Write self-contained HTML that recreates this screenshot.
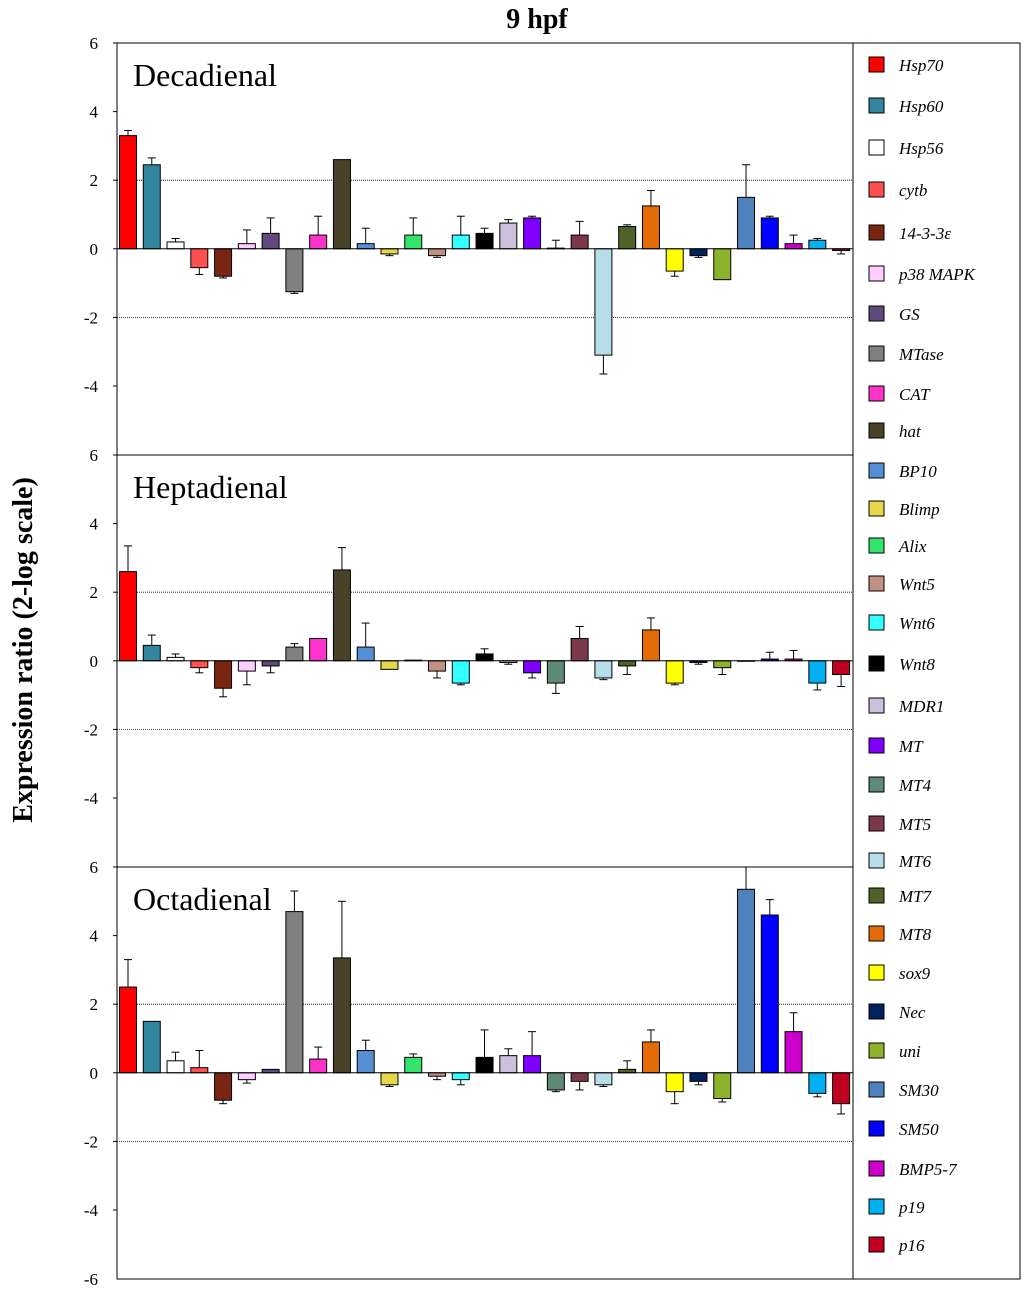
<!DOCTYPE html>
<html><head><meta charset="utf-8"><style>
body{margin:0;background:#fff;}
svg text{font-family:"Liberation Serif",serif;}
</style></head><body>
<svg id="chart" width="1024" height="1295" xmlns="http://www.w3.org/2000/svg">
<text x="537" y="28" text-anchor="middle" font-size="28" font-weight="bold">9 hpf</text>
<text transform="translate(32,650) rotate(-90)" text-anchor="middle" font-size="28" font-weight="bold">Expression ratio (2-log scale)</text>
<g id="plots"></g>
<rect x="853" y="43" width="167" height="1236" fill="none" stroke="#000" stroke-width="1"/>
<g id="legend"></g>
</svg>
<script>
const genes=["Hsp70","Hsp60","Hsp56","cytb","14-3-3ε","p38 MAPK","GS","MTase","CAT","hat","BP10","Blimp","Alix","Wnt5","Wnt6","Wnt8","MDR1","MT","MT4","MT5","MT6","MT7","MT8","sox9","Nec","uni","SM30","SM50","BMP5-7","p19","p16"];
const colors=["#ff0000","#31859c","#ffffff","#ff5050","#7a2412","#ffccff","#604a7b","#808080","#ff33cc","#4a4228","#558ed5","#e6d64a","#33e36b","#c09080","#33ffff","#000000","#ccc0da","#7f00ff","#5e8a78","#7b3848","#b7dee8","#4f6228","#e36c09","#ffff00","#002060","#8cb32a","#4f81bd","#0000ff","#cc00cc","#00b0f0","#c00020"];
const panelNames=["Decadienal","Heptadienal","Octadienal"];
const decaVals=[3.3,2.45,0.2,-0.55,-0.8,0.15,0.45,-1.25,0.4,2.6,0.15,-0.15,0.4,-0.2,0.4,0.45,0.75,0.9,0.02,0.4,-3.1,0.65,1.25,-0.65,-0.2,-0.9,1.5,0.9,0.15,0.25,-0.05];
const decaErr=[3.45,2.65,0.3,-0.75,-0.85,0.55,0.9,-1.3,0.95,2.62,0.6,-0.2,0.9,-0.25,0.95,0.6,0.85,0.95,0.25,0.8,-3.65,0.7,1.7,-0.8,-0.25,-0.9,2.45,0.95,0.4,0.3,-0.15];
const heptaVals=[2.6,0.45,0.1,-0.2,-0.8,-0.3,-0.15,0.4,0.65,2.65,0.4,-0.25,0.02,-0.3,-0.65,0.2,-0.05,-0.35,-0.65,0.65,-0.5,-0.15,0.9,-0.65,-0.05,-0.2,0.0,0.05,0.05,-0.65,-0.4];
const heptaErr=[3.35,0.75,0.2,-0.35,-1.05,-0.7,-0.35,0.5,0.65,3.3,1.1,-0.25,0.02,-0.5,-0.7,0.35,-0.1,-0.5,-0.95,1.0,-0.55,-0.4,1.25,-0.7,-0.1,-0.4,0.0,0.25,0.3,-0.85,-0.75];
const octaVals=[2.5,1.5,0.35,0.15,-0.8,-0.2,0.1,4.7,0.4,3.35,0.65,-0.35,0.45,-0.1,-0.2,0.45,0.5,0.5,-0.5,-0.25,-0.35,0.1,0.9,-0.55,-0.25,-0.75,5.35,4.6,1.2,-0.6,-0.9];
const octaErr=[3.3,1.5,0.6,0.65,-0.9,-0.3,0.12,5.3,0.75,5.0,0.95,-0.4,0.55,-0.2,-0.35,1.25,0.7,1.2,-0.55,-0.5,-0.4,0.35,1.25,-0.9,-0.35,-0.85,6.0,5.05,1.75,-0.7,-1.2];
const ticks=[6,4,2,0,-2,-4];
const NS="http://www.w3.org/2000/svg";
const plots=document.getElementById('plots');
const X0=117,X1=853,step=23.77,bw=17,unit=34.3;
const panelTops=[43,455,867];
const vals=[decaVals,heptaVals,octaVals],errs=[decaErr,heptaErr,octaErr];
function mk(tag,a,parent){const e=document.createElementNS(NS,tag);for(const k in a)e.setAttribute(k,a[k]);(parent||plots).appendChild(e);return e;}
function xc(i){return X0+11+i*step;}
panelTops.forEach((top,p)=>{
  const y=v=>top+(6-v)*unit;
  const g=mk('g',{});
  
  
  [2,-2].forEach(v=>{const l=mk('line',{x1:X0,x2:X1,y1:y(v),y2:y(v),stroke:'#000','stroke-width':0.8,'stroke-dasharray':'1,1'},g);});
  ticks.forEach(t=>{const tx=mk('text',{x:98,y:y(t)+6,'text-anchor':'end','font-size':17},g);tx.textContent=t;
    mk('line',{x1:X0-4,x2:X0,y1:y(t),y2:y(t),stroke:'#000'},g);});
  const nm=mk('text',{x:133,y:top+43,'font-size':32},g);nm.textContent=panelNames[p];
  
  vals[p].forEach((v,i)=>{
    const cx=xc(i),y0=y(0),yv=y(v);
    const r=mk('rect',{x:cx-bw/2,y:Math.min(y0,yv),width:bw,height:Math.max(Math.abs(yv-y0),0.5),fill:colors[i],stroke:'#000','stroke-width':1},g);
    
    
    const ye=y(errs[p][i]);
    if(Math.abs(ye-yv)>1){
      mk('line',{x1:cx,x2:cx,y1:yv,y2:ye,stroke:'#000','stroke-width':1},g);
      mk('line',{x1:cx-4,x2:cx+4,y1:ye,y2:ye,stroke:'#000','stroke-width':1},g);
    }
  });
  mk('line',{x1:X0,x2:X1,y1:y(0),y2:y(0),stroke:'#000','stroke-width':1},g);
  mk('rect',{x:X0,y:top,width:X1-X0,height:412,fill:'none',stroke:'#000','stroke-width':1},g);
});
const bt=mk('text',{x:98,y:1285,'text-anchor':'end','font-size':17});bt.textContent='-6';

const legY=[65,106,148,190,233,274,314,354,394,431,471,509,546,584,623,664,706,746,785,824,861,896,934,973,1012,1051,1090,1129,1169,1207,1245];
const leg=document.getElementById('legend');
genes.forEach((gn,i)=>{
  const g=mk('g',{},leg);
  
  
  mk('rect',{x:869,y:legY[i]-8,width:15,height:15,fill:colors[i],stroke:'#000','stroke-width':1},g);
  const t=mk('text',{x:899,y:legY[i]+6,'font-size':17,'font-style':'italic'},g);t.textContent=gn;
});
</script>
</body></html>
